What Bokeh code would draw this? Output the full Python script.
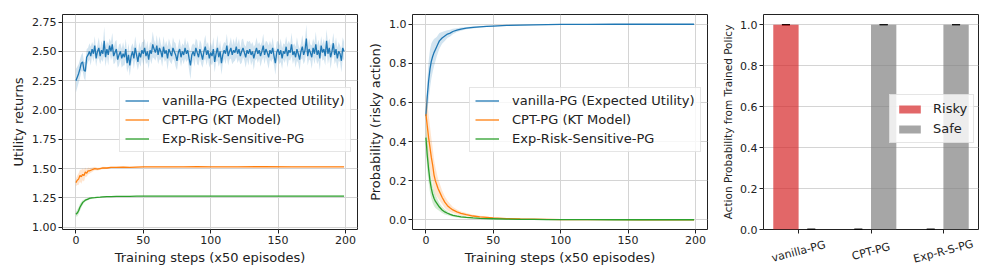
import numpy as np
from bokeh.plotting import figure
from bokeh.layouts import row, column
from bokeh.models import (ColumnDataSource, FixedTicker, PrintfTickFormatter, Legend,
                          LegendItem, Range1d, Whisker, TeeHead)
from bokeh.core.properties import value
from bokeh.embed import file_html
from bokeh.resources import INLINE

# ---------------- data ----------------
steps_full = list(range(200))

vanilla_util = [
    2.25, 2.28, 2.31, 2.35, 2.40, 2.41, 2.34, 2.33, 2.45, 2.47, 2.50, 2.46, 2.52, 2.48, 2.55, 2.44, 2.50, 2.53, 2.46, 2.51,
    2.48, 2.59, 2.45, 2.52, 2.47, 2.55, 2.50, 2.56, 2.46, 2.49, 2.52, 2.43, 2.47, 2.50, 2.44, 2.48, 2.45, 2.52, 2.40, 2.47,
    2.38, 2.46, 2.50, 2.44, 2.53, 2.47, 2.41, 2.49, 2.45, 2.51, 2.48, 2.53, 2.46, 2.50, 2.43, 2.51, 2.48, 2.56, 2.52, 2.49,
    2.55, 2.47, 2.53, 2.50, 2.45, 2.54, 2.48, 2.51, 2.44, 2.52, 2.49, 2.46, 2.53, 2.50, 2.47, 2.42, 2.49, 2.52, 2.45, 2.50,
    2.47, 2.53, 2.48, 2.51, 2.44, 2.38, 2.47, 2.50, 2.46, 2.53, 2.49, 2.45, 2.52, 2.48, 2.43, 2.50, 2.54, 2.47, 2.51, 2.44,
    2.49, 2.46, 2.52, 2.41, 2.48, 2.53, 2.45, 2.50, 2.40, 2.47, 2.51, 2.48, 2.55, 2.46, 2.50, 2.53, 2.47, 2.51, 2.49, 2.54,
    2.48, 2.52, 2.46, 2.50, 2.53, 2.49, 2.45, 2.51, 2.48, 2.52, 2.47, 2.50, 2.44, 2.49, 2.53, 2.48, 2.51, 2.46, 2.50, 2.55,
    2.47, 2.52, 2.49, 2.45, 2.51, 2.48, 2.53, 2.46, 2.40, 2.49, 2.52, 2.47, 2.51, 2.44, 2.50, 2.48, 2.54, 2.46, 2.51, 2.49,
    2.56, 2.47, 2.50, 2.45, 2.52, 2.48, 2.43, 2.50, 2.54, 2.47, 2.51, 2.61, 2.46, 2.52, 2.49, 2.45, 2.53, 2.48, 2.56, 2.47,
    2.51, 2.44, 2.55, 2.49, 2.52, 2.46, 2.59, 2.48, 2.53, 2.45, 2.50, 2.57, 2.47, 2.52, 2.44, 2.50, 2.48, 2.42, 2.53, 2.50,
]
vanilla_util_std = [
    0.10, 0.09, 0.08, 0.08, 0.07, 0.08, 0.07, 0.08, 0.07, 0.06, 0.07, 0.08, 0.06, 0.07, 0.08, 0.07, 0.06, 0.09, 0.07, 0.08,
    0.07, 0.12, 0.08, 0.07, 0.09, 0.06, 0.08, 0.10, 0.07, 0.09, 0.08, 0.07, 0.09, 0.07, 0.08, 0.10, 0.07, 0.09, 0.08, 0.10,
    0.09, 0.08, 0.07, 0.09, 0.10, 0.08, 0.07, 0.09, 0.08, 0.07, 0.10, 0.08, 0.07, 0.09, 0.08, 0.07, 0.09, 0.11, 0.08, 0.07,
    0.09, 0.08, 0.10, 0.07, 0.08, 0.09, 0.07, 0.08, 0.10, 0.09, 0.08, 0.07, 0.09, 0.08, 0.10, 0.08, 0.07, 0.09, 0.08, 0.07,
    0.08, 0.09, 0.07, 0.08, 0.10, 0.12, 0.08, 0.07, 0.09, 0.08, 0.10, 0.07, 0.08, 0.09, 0.07, 0.08, 0.10, 0.09, 0.07, 0.08,
    0.09, 0.08, 0.10, 0.09, 0.07, 0.11, 0.08, 0.09, 0.10, 0.08, 0.07, 0.09, 0.10, 0.08, 0.07, 0.09, 0.08, 0.10, 0.07, 0.09,
    0.08, 0.09, 0.07, 0.10, 0.08, 0.07, 0.09, 0.08, 0.10, 0.07, 0.09, 0.08, 0.10, 0.07, 0.09, 0.08, 0.07, 0.09, 0.08, 0.10,
    0.08, 0.07, 0.09, 0.10, 0.08, 0.07, 0.09, 0.08, 0.10, 0.09, 0.07, 0.08, 0.10, 0.09, 0.07, 0.08, 0.09, 0.10, 0.08, 0.07,
    0.10, 0.08, 0.07, 0.09, 0.10, 0.08, 0.09, 0.07, 0.10, 0.08, 0.09, 0.12, 0.08, 0.09, 0.07, 0.10, 0.08, 0.09, 0.11, 0.08,
    0.09, 0.10, 0.08, 0.07, 0.09, 0.08, 0.10, 0.09, 0.08, 0.10, 0.07, 0.09, 0.08, 0.10, 0.09, 0.08, 0.07, 0.10, 0.09, 0.08,
]

steps_s = [0, 1, 2, 3, 4, 5, 6, 7, 8, 9, 10, 12, 14, 16, 18, 20, 23, 26, 30, 35, 40, 45, 50,
           60, 70, 80, 90, 100, 120, 140, 160, 180, 199]

cpt_util = [1.38, 1.40, 1.41, 1.44, 1.43, 1.45, 1.44, 1.47, 1.46, 1.48, 1.48, 1.49, 1.50, 1.495, 1.50,
            1.505, 1.505, 1.51, 1.51, 1.512, 1.51, 1.513, 1.515, 1.514, 1.515, 1.515, 1.516, 1.515,
            1.515, 1.516, 1.515, 1.515, 1.515]
cpt_util_std = [0.03, 0.04, 0.05, 0.05, 0.06, 0.05, 0.05, 0.04, 0.03, 0.03, 0.025, 0.02, 0.015, 0.012,
                0.01, 0.01, 0.008, 0.006, 0.005, 0.005, 0.004, 0.004, 0.003, 0.003, 0.003, 0.002,
                0.002, 0.002, 0.002, 0.002, 0.002, 0.002, 0.002]
exp_util = [1.11, 1.12, 1.14, 1.17, 1.19, 1.21, 1.22, 1.23, 1.235, 1.24, 1.245, 1.25, 1.252, 1.255,
            1.256, 1.258, 1.26, 1.26, 1.262, 1.263, 1.263, 1.264, 1.265, 1.265, 1.265, 1.265, 1.265,
            1.265, 1.265, 1.265, 1.265, 1.265, 1.265]
exp_util_std = [0.02, 0.03, 0.03, 0.03, 0.025, 0.02, 0.015, 0.012, 0.01, 0.01, 0.008, 0.007, 0.006,
                0.005, 0.004, 0.004, 0.003, 0.003, 0.003, 0.002, 0.002, 0.002, 0.002, 0.002, 0.002,
                0.002, 0.002, 0.002, 0.002, 0.002, 0.002, 0.002, 0.002]

vanilla_prob = [0.53, 0.63, 0.71, 0.77, 0.81, 0.835, 0.855, 0.87, 0.885, 0.90, 0.915, 0.93, 0.94,
                0.95, 0.955, 0.963, 0.97, 0.975, 0.98, 0.984, 0.987, 0.989, 0.991, 0.994, 0.996,
                0.997, 0.998, 0.999, 0.9995, 1.0, 1.0, 1.0, 1.0]
vanilla_prob_std = [0.02, 0.08, 0.10, 0.10, 0.09, 0.08, 0.07, 0.06, 0.05, 0.045, 0.04, 0.03, 0.025,
                    0.02, 0.017, 0.014, 0.01, 0.008, 0.006, 0.005, 0.004, 0.003, 0.003, 0.002, 0.001,
                    0.001, 0.001, 0.0, 0.0, 0.0, 0.0, 0.0, 0.0]
cpt_prob = [0.54, 0.48, 0.42, 0.37, 0.32, 0.28, 0.23, 0.20, 0.18, 0.16, 0.145, 0.115, 0.09, 0.072,
            0.06, 0.05, 0.04, 0.032, 0.026, 0.019, 0.015, 0.012, 0.009, 0.006, 0.004, 0.003, 0.002,
            0.001, 0.0005, 0.0002, 0.0, 0.0, 0.0]
cpt_prob_std = [0.10, 0.12, 0.12, 0.11, 0.10, 0.09, 0.08, 0.07, 0.06, 0.05, 0.045, 0.035, 0.03,
                0.025, 0.02, 0.015, 0.012, 0.01, 0.008, 0.006, 0.005, 0.004, 0.003, 0.002, 0.002,
                0.001, 0.001, 0.0, 0.0, 0.0, 0.0, 0.0, 0.0]
exp_prob = [0.42, 0.33, 0.26, 0.20, 0.16, 0.13, 0.11, 0.095, 0.085, 0.075, 0.065, 0.05, 0.04, 0.033,
            0.027, 0.022, 0.018, 0.015, 0.012, 0.009, 0.007, 0.006, 0.005, 0.003, 0.002, 0.0015,
            0.001, 0.0005, 0.0002, 0.0, 0.0, 0.0, 0.0]
exp_prob_std = [0.08, 0.08, 0.07, 0.06, 0.05, 0.045, 0.04, 0.035, 0.03, 0.025, 0.02, 0.016, 0.013,
                0.01, 0.008, 0.007, 0.006, 0.005, 0.004, 0.003, 0.002, 0.002, 0.001, 0.001, 0.0,
                0.0, 0.0, 0.0, 0.0, 0.0, 0.0, 0.0, 0.0]

methods = ["vanilla-PG", "CPT-PG", "Exp-R-S-PG"]
risky = [1.0, 0.0, 0.0]
safe = [0.0, 1.0, 1.0]

series_names = ["vanilla-PG (Expected Utility)", "CPT-PG (KT Model)", "Exp-Risk-Sensitive-PG"]
colors = ["#1f77b4", "#ff7f0e", "#2ca02c"]

FONT = "DejaVu Sans"
TXT = "#222222"


def style(p, yticks, yfmt, ylabel, xlabel=None, xgrid=True, ylabel_size="13px"):
    p.outline_line_color = "#222222"
    p.outline_line_width = 1
    p.background_fill_color = "white"
    p.border_fill_color = "white"
    for ax in list(p.xaxis) + list(p.yaxis):
        ax.axis_line_color = None
        ax.major_tick_line_color = "#222222"
        ax.major_tick_out = 4
        ax.major_tick_in = 0
        ax.minor_tick_line_color = None
        ax.major_label_text_font = FONT
        ax.major_label_text_font_size = "11px"
        ax.major_label_text_color = TXT
        ax.axis_label_text_font = FONT
        ax.axis_label_text_font_style = "normal"
        ax.axis_label_text_color = TXT
        ax.major_label_standoff = 2
        ax.axis_label_standoff = 3
    p.xaxis.axis_label_text_font_size = "13px"
    p.yaxis.axis_label_text_font_size = ylabel_size
    p.yaxis.ticker = FixedTicker(ticks=yticks)
    p.yaxis.formatter = PrintfTickFormatter(format=yfmt)
    p.yaxis.axis_label = ylabel
    if xlabel is not None:
        p.xaxis.axis_label = xlabel
    p.ygrid.grid_line_color = "#d4d4d4"
    p.xgrid.grid_line_color = "#d4d4d4" if xgrid else None
    p.ygrid.ticker = p.yaxis.ticker


def line_legend(p, renderers, labels, loc):
    leg = Legend(items=[LegendItem(label=l, renderers=[r]) for l, r in zip(labels, renderers)],
                 location=loc, orientation="vertical")
    leg.label_text_font = FONT
    leg.label_text_font_size = "13px"
    leg.label_text_color = TXT
    leg.label_height = 15
    leg.glyph_height = 15
    leg.glyph_width = 24
    leg.label_standoff = 13
    leg.spacing = 4
    leg.padding = 5
    leg.margin = 0
    leg.border_line_color = "#cccccc"
    leg.border_line_width = 1
    leg.background_fill_alpha = 0.8
    p.add_layout(leg)


H = 272
FH_BOTTOM = 43
# ---------------- panel 1 ----------------
p1 = figure(width=362, height=H, output_backend="svg", toolbar_location=None,
            x_range=Range1d(-9.95, 208.95), y_range=Range1d(0.98, 2.815),
            min_border_left=62, min_border_right=5, min_border_top=14, min_border_bottom=FH_BOTTOM)
style(p1, [1.0, 1.25, 1.5, 1.75, 2.0, 2.25, 2.5, 2.75], "%.2f", "Utility returns",
      "Training steps (x50 episodes)")
p1.xaxis.ticker = FixedTicker(ticks=[0, 50, 100, 150, 200])
p1.xgrid.ticker = p1.xaxis.ticker

r1 = []
for xs, m, s, c in [(steps_full, vanilla_util, vanilla_util_std, colors[0]),
                    (steps_s, cpt_util, cpt_util_std, colors[1]),
                    (steps_s, exp_util, exp_util_std, colors[2])]:
    m = np.array(m); s = np.array(s)
    src = ColumnDataSource(dict(x=xs, y=m, lo=m - s, hi=m + s))
    p1.varea(x="x", y1="lo", y2="hi", source=src, fill_color=c, fill_alpha=0.2)
    r1.append(p1.line(x="x", y="y", source=src, line_color=c, line_width=1.3))
line_legend(p1, r1, series_names, (57, 77))

# ---------------- panel 2 ----------------
p2 = figure(width=350, height=H, output_backend="svg", toolbar_location=None,
            x_range=Range1d(-9.95, 208.95), y_range=Range1d(-0.05, 1.05),
            min_border_left=50, min_border_right=5, min_border_top=14, min_border_bottom=FH_BOTTOM)
style(p2, [0.0, 0.2, 0.4, 0.6, 0.8, 1.0], "%.1f", "Probability (risky action)",
      "Training steps (x50 episodes)")
p2.xaxis.ticker = FixedTicker(ticks=[0, 50, 100, 150, 200])
p2.xgrid.ticker = p2.xaxis.ticker

r2 = []
for m, s, c in [(vanilla_prob, vanilla_prob_std, colors[0]),
                (cpt_prob, cpt_prob_std, colors[1]),
                (exp_prob, exp_prob_std, colors[2])]:
    m = np.array(m); s = np.array(s)
    src = ColumnDataSource(dict(x=steps_s, y=m, lo=np.clip(m - s, 0, 1), hi=np.clip(m + s, 0, 1)))
    p2.varea(x="x", y1="lo", y2="hi", source=src, fill_color=c, fill_alpha=0.2)
    r2.append(p2.line(x="x", y="y", source=src, line_color=c, line_width=1.3))
line_legend(p2, r2, series_names, (57, 77))

# ---------------- panel 3 ----------------
H3 = 14 + 215 + 8   # bar chart part: top border, frame, room for ticks and the "0.0" label
HL = H - H3         # strip underneath holding the rotated category labels
p3 = figure(width=284, height=H3, output_backend="svg", toolbar_location=None,
            x_range=Range1d(-0.485, 2.485), y_range=Range1d(0.0, 1.05),
            min_border_left=51, min_border_right=18, min_border_top=14, min_border_bottom=8)
style(p3, [0.0, 0.2, 0.4, 0.6, 0.8, 1.0], "%.1f", "Action Probability from Trained Policy",
      None, xgrid=False, ylabel_size="10.5px")
pos = list(range(len(methods)))
p3.xaxis.ticker = FixedTicker(ticks=pos)
p3.xaxis.major_label_overrides = {i: "" for i in pos}
p3.xaxis.major_label_text_font_size = "0px"
p3.xaxis.major_label_standoff = 0
bw = 0.35
src3 = ColumnDataSource(dict(xr=[x - bw / 2 for x in pos], xs=[x + bw / 2 for x in pos],
                             risky=risky, safe=safe))
rb = p3.vbar(x="xr", top="risky", width=bw, source=src3, fill_color="#d62728", fill_alpha=0.7,
             line_color=None)
sb = p3.vbar(x="xs", top="safe", width=bw, source=src3, fill_color="#808080", fill_alpha=0.7,
             line_color=None)
for col, xcol in [("risky", "xr"), ("safe", "xs")]:
    w = Whisker(base=xcol, upper=col, lower=col, source=src3, dimension="height",
                line_color="black", line_width=1,
                upper_head=TeeHead(size=8, line_color="black", line_width=1.5),
                lower_head=TeeHead(size=8, line_color="black", line_width=1.5))
    p3.add_layout(w)
leg3 = Legend(items=[LegendItem(label="Risky", renderers=[rb]), LegendItem(label="Safe", renderers=[sb])],
              location=(126, 86))
leg3.label_text_font = FONT
leg3.label_text_font_size = "13px"
leg3.label_text_color = TXT
leg3.label_height = 14
leg3.glyph_height = 10
leg3.glyph_width = 27
leg3.label_standoff = 10
leg3.spacing = 5
leg3.padding = 6
leg3.margin = 0
leg3.border_line_color = "#cccccc"
leg3.background_fill_alpha = 0.8
p3.add_layout(leg3)

# label strip: y measured in px from its bottom
lab = figure(width=284, height=HL, output_backend="svg", toolbar_location=None,
             x_range=p3.x_range, y_range=Range1d(0, HL),
             x_axis_location=None, y_axis_location=None,
             min_border_left=51, min_border_right=18, min_border_top=0, min_border_bottom=0)
lab.outline_line_color = None
lab.grid.visible = False
lab.border_fill_color = "white"
label_center_px = 14  # below the strip's top edge
src_lab = ColumnDataSource(dict(x=pos, y=[HL - label_center_px] * len(pos), t=methods))
lab.text(x="x", y="y", text="t", source=src_lab, angle=0.26, text_align="center",
         text_baseline="middle", text_font=value(FONT), text_font_size="11px", text_color=TXT)

layout = row(p1, p2, column(p3, lab))
open("out.html", "w").write(file_html(layout, INLINE))
